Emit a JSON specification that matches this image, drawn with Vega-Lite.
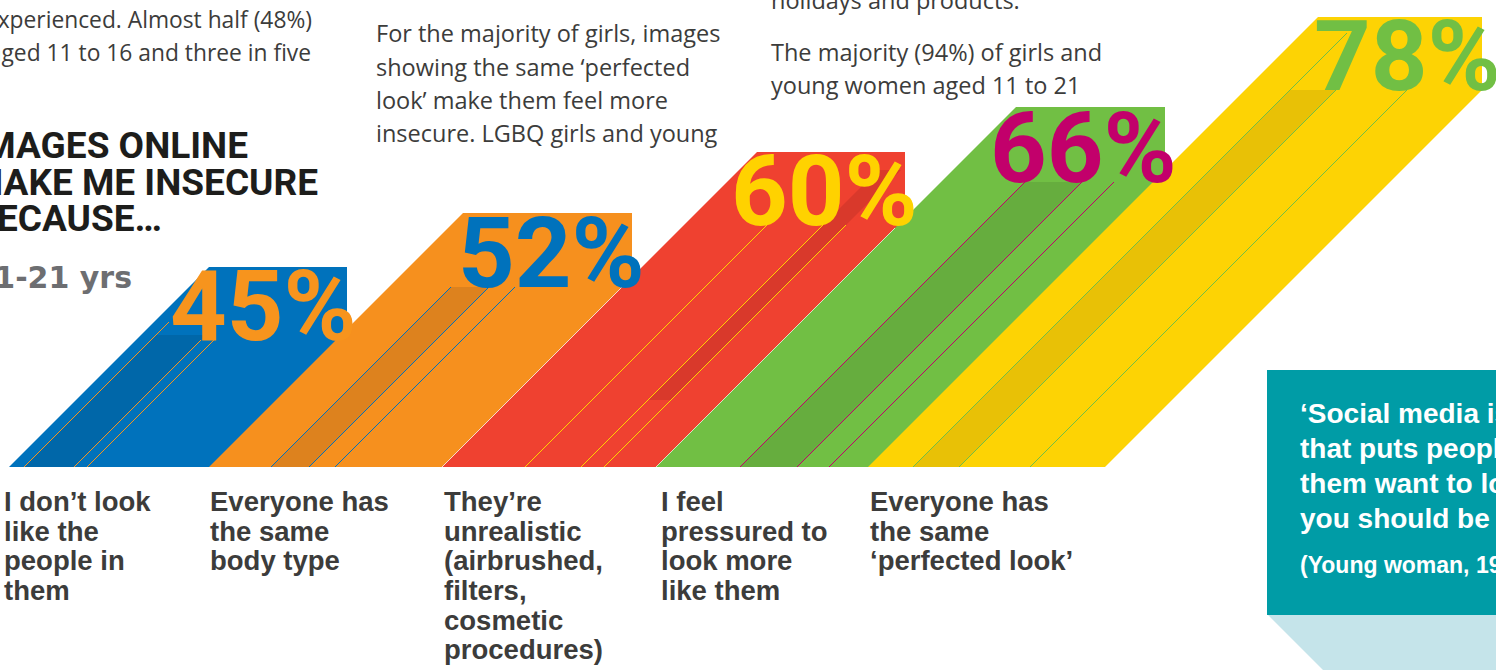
{
  "$schema": "https://vega.github.io/schema/vega-lite/v6.json",
  "width": 1496,
  "height": 670,
  "autosize": {"type": "fit", "contains": "padding"},
  "padding": 0,
  "background": "#ffffff",
  "config": {"view": {"stroke": null}},
  "datasets": {
    "bars": [
      {"bar": "blue", "c": "#0072BC", "y": 467, "x": 9, "x2": 220},
      {"bar": "blue", "c": "#0072BC", "y": 340, "x": 136, "x2": 347},
      {"bar": "blue", "c": "#0072BC", "y": 267, "x": 209, "x2": 347},
      {"bar": "orange", "c": "#F6901E", "y": 467, "x": 209, "x2": 452},
      {"bar": "orange", "c": "#F6901E", "y": 287, "x": 389, "x2": 632},
      {"bar": "orange", "c": "#F6901E", "y": 213, "x": 463, "x2": 632},
      {"bar": "red", "c": "#EF4130", "y": 467, "x": 442, "x2": 663},
      {"bar": "red", "c": "#EF4130", "y": 225, "x": 684, "x2": 905},
      {"bar": "red", "c": "#EF4130", "y": 152, "x": 757, "x2": 905},
      {"bar": "green", "c": "#71BF44", "y": 467, "x": 656, "x2": 880},
      {"bar": "green", "c": "#71BF44", "y": 182, "x": 941, "x2": 1165},
      {"bar": "green", "c": "#71BF44", "y": 107, "x": 1016, "x2": 1165},
      {"bar": "yellow", "c": "#FDD304", "y": 467, "x": 868, "x2": 1105},
      {"bar": "yellow", "c": "#FDD304", "y": 90, "x": 1245, "x2": 1482},
      {"bar": "yellow", "c": "#FDD304", "y": 17, "x": 1318, "x2": 1482}
    ],
    "strips": [
      {"c": "#0067A9", "y": 467, "x": 24, "x2": 74},
      {"c": "#0067A9", "y": 335, "x": 156, "x2": 206},
      {"c": "#DD821E", "y": 467, "x": 271, "x2": 309},
      {"c": "#DD821E", "y": 287, "x": 451, "x2": 489},
      {"c": "#D9392B", "y": 400, "x": 648, "x2": 671},
      {"c": "#D9392B", "y": 170, "x": 878, "x2": 901},
      {"c": "#66AD3E", "y": 467, "x": 740, "x2": 797},
      {"c": "#66AD3E", "y": 182, "x": 1025, "x2": 1082},
      {"c": "#E8C106", "y": 467, "x": 913, "x2": 959},
      {"c": "#E8C106", "y": 90, "x": 1290, "x2": 1336}
    ],
    "lines": [
      {"c": "#F7941D", "x": 24, "y": 467, "x2": 169, "y2": 322},
      {"c": "#F7941D", "x": 74, "y": 467, "x2": 201, "y2": 340},
      {"c": "#F7941D", "x": 87, "y": 467, "x2": 214, "y2": 340},
      {"c": "#0072BC", "x": 271, "y": 467, "x2": 451, "y2": 287},
      {"c": "#0072BC", "x": 309, "y": 467, "x2": 489, "y2": 287},
      {"c": "#0072BC", "x": 335, "y": 467, "x2": 515, "y2": 287},
      {"c": "#F8D9CC", "x": 442, "y": 467, "x2": 627, "y2": 282},
      {"c": "#FFD200", "x": 525, "y": 467, "x2": 767, "y2": 225},
      {"c": "#FFD200", "x": 581, "y": 467, "x2": 823, "y2": 225},
      {"c": "#FFD200", "x": 604, "y": 467, "x2": 846, "y2": 225},
      {"c": "#D5E8C4", "x": 656, "y": 467, "x2": 895, "y2": 228},
      {"c": "#C2006B", "x": 740, "y": 467, "x2": 1025, "y2": 182},
      {"c": "#C2006B", "x": 797, "y": 467, "x2": 1082, "y2": 182},
      {"c": "#C2006B", "x": 829, "y": 467, "x2": 1114, "y2": 182},
      {"c": "#71BF44", "x": 913, "y": 467, "x2": 1347, "y2": 33},
      {"c": "#71BF44", "x": 959, "y": 467, "x2": 1336, "y2": 90},
      {"c": "#71BF44", "x": 1030, "y": 467, "x2": 1407, "y2": 90}
    ],
    "pct": [
      {"t": "45%", "x": 170, "y": 340, "c": "#F7941D"},
      {"t": "52%", "x": 458, "y": 287, "c": "#0072BC"},
      {"t": "60%", "x": 731, "y": 225, "c": "#FFD200"},
      {"t": "66%", "x": 990, "y": 182, "c": "#C2006B"},
      {"t": "78%", "x": 1314, "y": 90, "c": "#71BF44"}
    ],
    "body": [
      {"t": "For the majority of girls, images", "x": 376, "y": 42},
      {"t": "showing the same ‘perfected", "x": 376, "y": 76},
      {"t": "look’ make them feel more", "x": 376, "y": 109},
      {"t": "insecure. LGBQ girls and young", "x": 376, "y": 142},
      {"t": "holidays and products.", "x": 771, "y": 9},
      {"t": "The majority (94%) of girls and", "x": 771, "y": 61},
      {"t": "young women aged 11 to 21", "x": 771, "y": 94}
    ],
    "bodyR": [
      {"t": "experienced. Almost half (48%)", "x": 312, "y": 28},
      {"t": "aged 11 to 16 and three in five", "x": 311, "y": 61}
    ],
    "head": [
      {"t": "IMAGES ONLINE", "x": 248, "y": 158},
      {"t": "MAKE ME INSECURE", "x": 318, "y": 195},
      {"t": "BECAUSE…", "x": 162, "y": 231}
    ],
    "labels": [
      {"t": "I don’t look", "x": 4, "y": 511},
      {"t": "like the", "x": 4, "y": 541},
      {"t": "people in", "x": 4, "y": 570},
      {"t": "them", "x": 4, "y": 600},
      {"t": "Everyone has", "x": 210, "y": 511},
      {"t": "the same", "x": 210, "y": 541},
      {"t": "body type", "x": 210, "y": 570},
      {"t": "They’re", "x": 444, "y": 511},
      {"t": "unrealistic", "x": 444, "y": 541},
      {"t": "(airbrushed,", "x": 444, "y": 570},
      {"t": "filters,", "x": 444, "y": 600},
      {"t": "cosmetic", "x": 444, "y": 630},
      {"t": "procedures)", "x": 444, "y": 659},
      {"t": "I feel", "x": 661, "y": 511},
      {"t": "pressured to", "x": 661, "y": 541},
      {"t": "look more", "x": 661, "y": 570},
      {"t": "like them", "x": 661, "y": 600},
      {"t": "Everyone has", "x": 870, "y": 511},
      {"t": "the same", "x": 870, "y": 541},
      {"t": "‘perfected look’", "x": 870, "y": 570}
    ],
    "quote": [
      {"t": "‘Social media is", "x": 1300, "y": 423, "s": 28},
      {"t": "that puts people", "x": 1300, "y": 458, "s": 28},
      {"t": "them want to look", "x": 1300, "y": 493, "s": 28},
      {"t": "you should be like", "x": 1300, "y": 528, "s": 28},
      {"t": "(Young woman, 19)", "x": 1300, "y": 573, "s": 23}
    ],
    "box": [{"x": 1267, "x2": 1496, "y": 370, "y2": 615}],
    "under": [
      {"y": 615, "x": 1268, "x2": 1496},
      {"y": 670, "x": 1323, "x2": 1496}
    ]
  },
  "encoding": {
    "x": {"field": "x", "type": "quantitative", "axis": null, "scale": {"domain": [0, 1496], "nice": false, "zero": false}},
    "y": {"field": "y", "type": "quantitative", "axis": null, "scale": {"domain": [0, 670], "reverse": true, "nice": false, "zero": false}}
  },
  "layer": [
    {"data": {"name": "bars"}, "transform": [{"filter": "datum.bar == 'blue'"}], "mark": {"type": "area", "orient": "horizontal", "clip": true}, "encoding": {"x2": {"field": "x2"}, "color": {"field": "c", "type": "nominal", "scale": null}}},
    {"data": {"name": "bars"}, "transform": [{"filter": "datum.bar == 'orange'"}], "mark": {"type": "area", "orient": "horizontal", "clip": true}, "encoding": {"x2": {"field": "x2"}, "color": {"field": "c", "type": "nominal", "scale": null}}},
    {"data": {"name": "bars"}, "transform": [{"filter": "datum.bar == 'red'"}], "mark": {"type": "area", "orient": "horizontal", "clip": true}, "encoding": {"x2": {"field": "x2"}, "color": {"field": "c", "type": "nominal", "scale": null}}},
    {"data": {"name": "bars"}, "transform": [{"filter": "datum.bar == 'green'"}], "mark": {"type": "area", "orient": "horizontal", "clip": true}, "encoding": {"x2": {"field": "x2"}, "color": {"field": "c", "type": "nominal", "scale": null}}},
    {"data": {"name": "bars"}, "transform": [{"filter": "datum.bar == 'yellow'"}], "mark": {"type": "area", "orient": "horizontal", "clip": true}, "encoding": {"x2": {"field": "x2"}, "color": {"field": "c", "type": "nominal", "scale": null}}},
    {"data": {"name": "strips"}, "mark": {"type": "area", "orient": "horizontal", "clip": true}, "encoding": {"x2": {"field": "x2"}, "color": {"field": "c", "type": "nominal", "scale": null}}},
    {"data": {"name": "lines"}, "mark": {"type": "rule", "strokeWidth": 1, "clip": true}, "encoding": {"x2": {"field": "x2"}, "y2": {"field": "y2"}, "color": {"field": "c", "type": "nominal", "scale": null}}},
    {"data": {"name": "pct"}, "mark": {"type": "text", "align": "left", "baseline": "alphabetic", "font": "Roboto", "fontWeight": "bold", "fontSize": 99, "clip": true}, "encoding": {"text": {"field": "t"}, "color": {"field": "c", "type": "nominal", "scale": null}}},
    {"data": {"name": "body"}, "mark": {"type": "text", "align": "left", "baseline": "alphabetic", "font": "Open Sans", "fontSize": 23.5, "color": "#3C3C3B", "clip": true}, "encoding": {"text": {"field": "t"}}},
    {"data": {"name": "bodyR"}, "mark": {"type": "text", "align": "right", "baseline": "alphabetic", "font": "Open Sans", "fontSize": 22.8, "color": "#3C3C3B", "clip": true}, "encoding": {"text": {"field": "t"}}},
    {"data": {"name": "head"}, "mark": {"type": "text", "align": "right", "baseline": "alphabetic", "font": "Roboto", "fontWeight": "bold", "fontSize": 37, "color": "#1D1D1B", "clip": true}, "encoding": {"text": {"field": "t"}}},
    {"data": {"values": [{"t": "11-21 yrs", "x": 132, "y": 288}]}, "mark": {"type": "text", "align": "right", "baseline": "alphabetic", "font": "DejaVu Sans", "fontWeight": "bold", "fontSize": 30, "color": "#6D6E71", "clip": true}, "encoding": {"text": {"field": "t"}}},
    {"data": {"name": "labels"}, "mark": {"type": "text", "align": "left", "baseline": "alphabetic", "font": "Liberation Sans", "fontWeight": "bold", "fontSize": 27.5, "color": "#3C3C3B", "clip": true}, "encoding": {"text": {"field": "t"}}},
    {"data": {"name": "under"}, "mark": {"type": "area", "orient": "horizontal", "color": "#C5E4EA", "clip": true}, "encoding": {"x2": {"field": "x2"}}},
    {"data": {"name": "box"}, "mark": {"type": "rect", "color": "#009CA6", "clip": true}, "encoding": {"x2": {"field": "x2"}, "y2": {"field": "y2"}}},
    {"data": {"name": "quote"}, "mark": {"type": "text", "align": "left", "baseline": "alphabetic", "font": "Liberation Sans", "fontWeight": "bold", "color": "#FFFFFF", "clip": true}, "encoding": {"text": {"field": "t"}, "size": {"field": "s", "type": "quantitative", "scale": null}}}
  ]
}
